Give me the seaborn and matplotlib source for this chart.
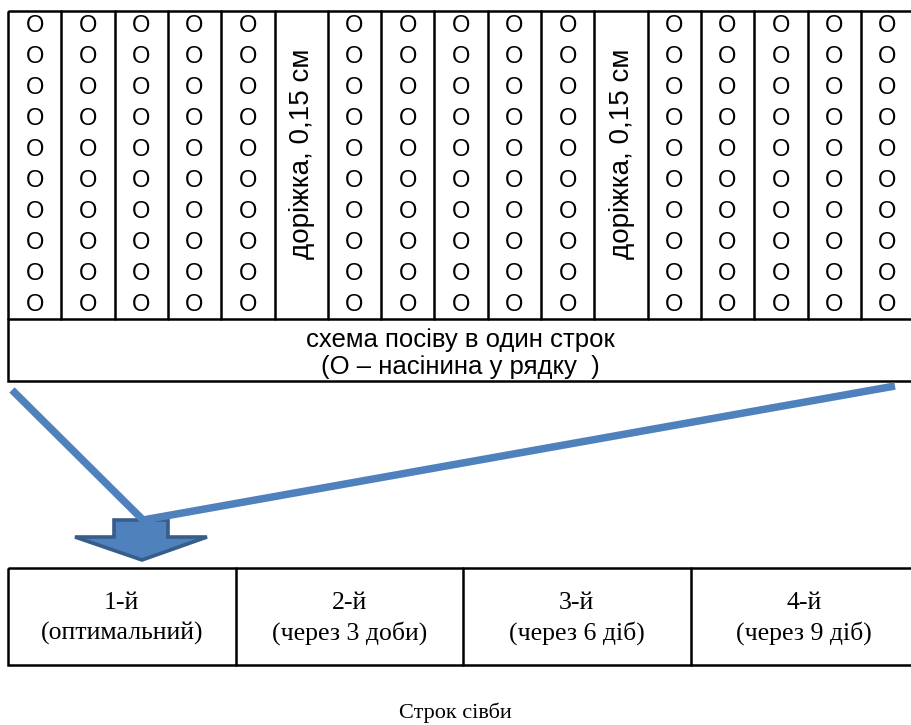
import matplotlib
matplotlib.use("Agg")
import matplotlib.pyplot as plt
from matplotlib.patches import Rectangle, Polygon
import seaborn as sns
import pandas as pd

# ---- data ----
seed_symbol = "O"
rows_per_column = 10
column_layout = ["seed"] * 5 + ["path"] + ["seed"] * 5 + ["path"] + ["seed"] * 5
path_label = "доріжка, 0,15 см"
caption_lines = ["схема посіву в один строк", "(О – насінина у рядку  )"]
sowing_terms = ["1-й", "2-й", "3-й", "4-й"]
term_notes = ["(оптимальний)", "(через 3 доби)", "(через 6 діб)", "(через 9 діб)"]
footer = "Строк сівби"

sns.set_theme(style="white")
plt.rcParams["font.family"] = ["Liberation Sans", "DejaVu Sans"]

W, H = 911, 725
fig = plt.figure(figsize=(W / 100, H / 100), dpi=100)
ax = fig.add_axes([0, 0, 1, 1])
ax.set_xlim(0, W)
ax.set_ylim(H, 0)
ax.axis("off")

black = "#000000"
blue = "#4F81BD"
dark_blue = "#385D8A"
lw = 1.8

# ---- top grid ----
left, top = 8, 11
col_w = 53.3
grid_bottom = 319
caption_bottom = 381
ncol = len(column_layout)
right = left + ncol * col_w

ax.add_patch(Rectangle((left, top), right - left, caption_bottom - top,
                       fill=False, ec=black, lw=lw, clip_on=True))
ax.plot([left, right], [grid_bottom, grid_bottom], color=black, lw=lw)
for i in range(1, ncol):
    x = left + i * col_w
    ax.plot([x, x], [top, grid_bottom], color=black, lw=lw)

row_y0, row_dy = 26, 31
for i, kind in enumerate(column_layout):
    cx = left + (i + 0.5) * col_w
    if kind == "seed":
        for r in range(rows_per_column):
            ax.text(cx, row_y0 + r * row_dy, seed_symbol, ha="center", va="center",
                    fontsize=17, color=black)
    else:
        ax.text(cx + 1, 154, path_label, ha="center", va="center", rotation=90,
                fontsize=20, color=black)

cap_font = ["Liberation Sans Narrow", "Liberation Sans", "DejaVu Sans"]
ax.text(460, 340, caption_lines[0], ha="center", va="center", fontsize=18.5,
        family=cap_font, color=black)
ax.text(460, 367, caption_lines[1], ha="center", va="center", fontsize=18.5,
        family=cap_font, color=black)

# ---- connecting blue lines ----
lines_df = pd.DataFrame({
    "x": [12, 143, 895],
    "y": [390, 520, 386],
})
sns.lineplot(data=lines_df, x="x", y="y", sort=False, ax=ax, color=blue,
             lw=5.4, solid_capstyle="butt", solid_joinstyle="miter", zorder=3)

# ---- block arrow ----
arrow_pts = [(114, 520), (168, 520), (168, 537), (207, 537), (142, 560),
             (75, 537), (114, 537)]
ax.add_patch(Polygon(arrow_pts, closed=True, fc=blue, ec=dark_blue, lw=2.6,
                     joinstyle="miter", zorder=2))

# ---- bottom table ----
t_left, t_top, t_bottom = 8, 568, 665
cell_w = 227.5
t_right = t_left + len(sowing_terms) * cell_w
ax.add_patch(Rectangle((t_left, t_top), t_right - t_left, t_bottom - t_top,
                       fill=False, ec=black, lw=lw))
for i in range(1, len(sowing_terms)):
    x = t_left + i * cell_w
    ax.plot([x, x], [t_top, t_bottom], color=black, lw=lw)

serif = ["Liberation Serif", "DejaVu Serif"]
for i, (term, note) in enumerate(zip(sowing_terms, term_notes)):
    cx = t_left + (i + 0.5) * cell_w
    ax.text(cx, 603, term, ha="center", va="center", fontsize=18.5, family=serif,
            color=black)
    ax.text(cx, 633, note, ha="center", va="center", fontsize=18.5, family=serif,
            color=black)

ax.text(455, 713, footer, ha="center", va="center", fontsize=16, family=serif,
        color=black)

fig.savefig("out.png", dpi=100)
